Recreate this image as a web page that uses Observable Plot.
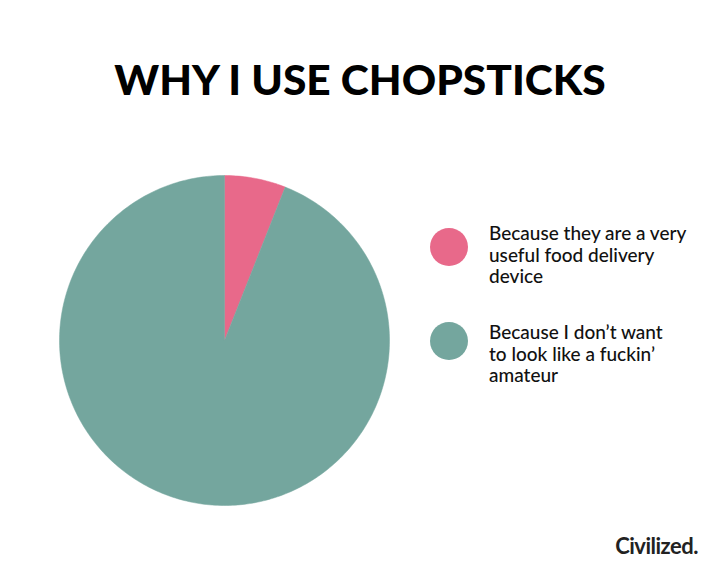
<!DOCTYPE html>
<html>
<head>
<meta charset="utf-8">
<script src="https://cdn.jsdelivr.net/npm/d3@7"></script>
<script src="https://cdn.jsdelivr.net/npm/@observablehq/plot@0.6"></script>
<style>
  html, body { margin: 0; padding: 0; background: #fff; }
  #wrap { position: relative; width: 720px; height: 576px; overflow: hidden; background: #fff; }
  #chart { position: absolute; left: 0; top: 0; }
  #title { position: absolute; left: 0; width: 720px; top: 53px; text-align: center;
    font-family: Lato, sans-serif; font-weight: 900; font-size: 42.5px; color: #000; }
  .sw { position: absolute; width: 38px; height: 38px; border-radius: 50%; }
  .tx { position: absolute; left: 489px; font-family: Lato, sans-serif; font-weight: 500; font-size: 19px;
    line-height: 21.5px; color: #111; white-space: nowrap; }
  #caption { position: absolute; right: 22px; top: 532px; font-family: Lato, sans-serif; font-weight: 700;
    font-size: 22px; color: #222; letter-spacing: -0.5px; }
</style>
</head>
<body>
<div id="wrap">
  <div id="chart"></div>
  <div id="title"></div>
  <div id="legend"></div>
  <div id="caption"></div>
</div>
<script>
const titleText = "WHY I USE CHOPSTICKS";
const captionText = "Civilized.";
const categories = [
  "Because they are a very useful food delivery device",
  "Because I don\u2019t want to look like a fuckin\u2019 amateur"
];
const legendLines = [
  ["Because they are a very", "useful food delivery", "device"],
  ["Because I don\u2019t want", "to look like a fuckin\u2019", "amateur"]
];
const values = [6, 94];
const colors = ["#e8698a", "#74a69e"];

// Build slice polygons (clockwise from 12 o'clock) from the values
const total = d3.sum(values);
const pts = [];
let start = 0;
categories.forEach((c, i) => {
  const a0 = start, a1 = start + values[i] / total * 2 * Math.PI;
  pts.push({cat: c, x: 0, y: 0});
  const n = Math.max(2, Math.ceil((a1 - a0) / (Math.PI / 180)));
  for (let k = 0; k <= n; k++) {
    const a = a0 + (a1 - a0) * k / n;
    pts.push({cat: c, x: Math.sin(a), y: Math.cos(a)});
  }
  pts.push({cat: c, x: 0, y: 0});
  start = a1;
});

const W = 720, H = 576, cx = 224, cy = 340, R = 165;
const plot = Plot.plot({
  width: W, height: H,
  margin: 0,
  x: {domain: [-cx / R, (W - cx) / R], axis: null},
  y: {domain: [-(H - cy) / R, cy / R], axis: null},
  color: {domain: categories, range: colors},
  marks: [
    Plot.line(pts, {x: "x", y: "y", z: "cat", fill: "cat", stroke: "cat", strokeWidth: 0.5, curve: "linear"})
  ]
});
document.getElementById("chart").appendChild(plot);

document.getElementById("title").textContent = titleText;
document.getElementById("caption").textContent = captionText;

const dotCenters = [247, 341];
const textTops = [222, 321];
const leg = document.getElementById("legend");
categories.forEach((c, i) => {
  const sw = document.createElement("div");
  sw.className = "sw";
  sw.style.background = colors[i];
  sw.style.left = (449 - 19) + "px";
  sw.style.top = (dotCenters[i] - 19) + "px";
  const tx = document.createElement("div");
  tx.className = "tx";
  tx.style.top = textTops[i] + "px";
  tx.innerHTML = legendLines[i].join("<br>");
  leg.appendChild(sw); leg.appendChild(tx);
});
</script>
</body>
</html>
